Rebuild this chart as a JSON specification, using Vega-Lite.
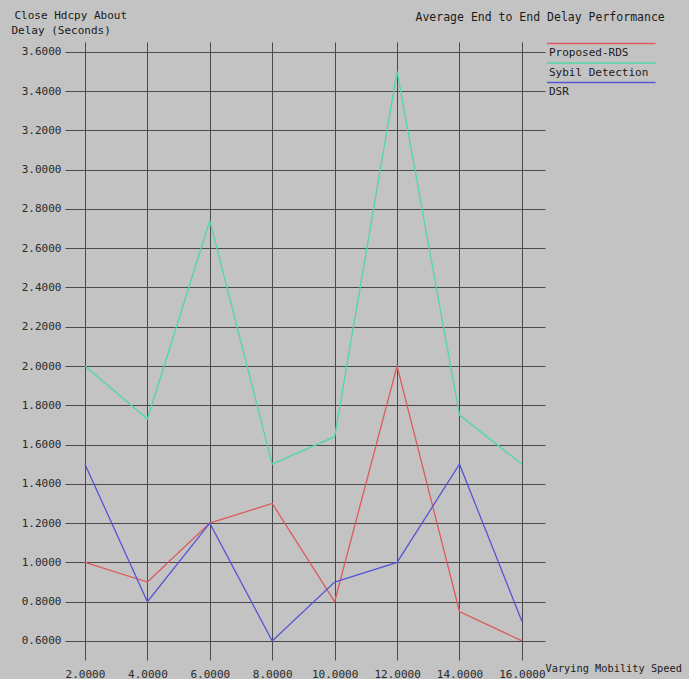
{
  "$schema": "https://vega.github.io/schema/vega-lite/v6.json",
  "width": 480,
  "height": 618,
  "autosize": {"type": "none"},
  "padding": {"left": 65, "top": 42, "right": 144, "bottom": 19},
  "background": "#c3c3c3",
  "config": {
    "view": {"stroke": null},
    "axis": {
      "labelFont": "DejaVu Sans Mono",
      "labelFontSize": 11,
      "labelColor": "#2a2a2a",
      "titleFont": "DejaVu Sans Mono",
      "titleFontSize": 11,
      "titleFontWeight": "normal",
      "titleColor": "#1a1a1a",
      "gridColor": "#4a4a4a",
      "gridOpacity": 1,
      "gridWidth": 1,
      "domain": false,
      "ticks": false
    },
    "legend": {
      "labelFont": "DejaVu Sans Mono",
      "labelFontSize": 11,
      "labelColor": "#1a1a1a"
    }
  },
  "data": {
    "values": [
      {"speed": 2, "delay": 1.0, "series": "Proposed-RDS"},
      {"speed": 4, "delay": 0.9, "series": "Proposed-RDS"},
      {"speed": 6, "delay": 1.2, "series": "Proposed-RDS"},
      {"speed": 8, "delay": 1.3, "series": "Proposed-RDS"},
      {"speed": 10, "delay": 0.8, "series": "Proposed-RDS"},
      {"speed": 12, "delay": 2.0, "series": "Proposed-RDS"},
      {"speed": 14, "delay": 0.75, "series": "Proposed-RDS"},
      {"speed": 16, "delay": 0.6, "series": "Proposed-RDS"},
      {"speed": 2, "delay": 2.0, "series": "Sybil Detection"},
      {"speed": 4, "delay": 1.73, "series": "Sybil Detection"},
      {"speed": 6, "delay": 2.74, "series": "Sybil Detection"},
      {"speed": 8, "delay": 1.5, "series": "Sybil Detection"},
      {"speed": 10, "delay": 1.64, "series": "Sybil Detection"},
      {"speed": 12, "delay": 3.5, "series": "Sybil Detection"},
      {"speed": 14, "delay": 1.75, "series": "Sybil Detection"},
      {"speed": 16, "delay": 1.5, "series": "Sybil Detection"},
      {"speed": 2, "delay": 1.5, "series": "DSR"},
      {"speed": 4, "delay": 0.8, "series": "DSR"},
      {"speed": 6, "delay": 1.2, "series": "DSR"},
      {"speed": 8, "delay": 0.6, "series": "DSR"},
      {"speed": 10, "delay": 0.9, "series": "DSR"},
      {"speed": 12, "delay": 1.0, "series": "DSR"},
      {"speed": 14, "delay": 1.5, "series": "DSR"},
      {"speed": 16, "delay": 0.7, "series": "DSR"}
    ]
  },
  "layer": [
    {
      "mark": {"type": "line", "strokeWidth": 1.3},
      "encoding": {
        "x": {
          "field": "speed",
          "type": "quantitative",
          "scale": {"domain": [1.36, 16.74], "nice": false, "zero": false},
          "axis": {
            "values": [2, 4, 6, 8, 10, 12, 14, 16],
            "format": ".4f",
            "labelPadding": 8,
            "title": "Varying Mobility Speed",
            "titleFontSize": 10.3,
            "titleX": 480,
            "titleY": 8,
            "titleAlign": "left",
            "titleBaseline": "middle"
          }
        },
        "y": {
          "field": "delay",
          "type": "quantitative",
          "scale": {"domain": [0.503, 3.65], "nice": false, "zero": false},
          "axis": {
            "values": [0.6, 0.8, 1.0, 1.2, 1.4, 1.6, 1.8, 2.0, 2.2, 2.4, 2.6, 2.8, 3.0, 3.2, 3.4, 3.6],
            "format": ".4f",
            "labelPadding": 4,
            "title": "Delay (Seconds)",
            "titleAngle": 0,
            "titleX": -54,
            "titleY": -12,
            "titleAlign": "left",
            "titleBaseline": "middle"
          }
        },
        "color": {
          "field": "series",
          "type": "nominal",
          "sort": ["Proposed-RDS", "Sybil Detection", "DSR"],
          "scale": {
            "domain": ["Proposed-RDS", "Sybil Detection", "DSR"],
            "range": ["#dd5a5e", "#4fd8a6", "#5555d6"]
          },
          "legend": {
            "orient": "none",
            "legendX": 481,
            "legendY": 5,
            "title": null,
            "symbolType": "M-1,-1.9H20.7",
            "symbolSize": 100,
            "symbolStrokeWidth": 1.6,
            "labelOffset": -9,
            "rowPadding": 1.5
          }
        }
      }
    },
    {
      "mark": {"type": "point", "opacity": 0},
      "encoding": {
        "x": {
          "field": "speed",
          "type": "quantitative",
          "axis": {
            "orient": "top",
            "labels": false,
            "grid": false,
            "title": "Average End to End Delay Performance",
            "titleX": 350,
            "titleY": -25,
            "titleFontSize": 11.5,
            "titleAlign": "left",
            "titleBaseline": "middle"
          }
        },
        "y": {
          "field": "delay",
          "type": "quantitative",
          "axis": {
            "orient": "right",
            "labels": false,
            "grid": false,
            "title": "Close  Hdcpy  About",
            "titleAngle": 0,
            "titleX": -531,
            "titleY": -27,
            "titleAlign": "left",
            "titleBaseline": "middle"
          }
        }
      }
    }
  ],
  "resolve": {"axis": {"x": "independent", "y": "independent"}}
}
